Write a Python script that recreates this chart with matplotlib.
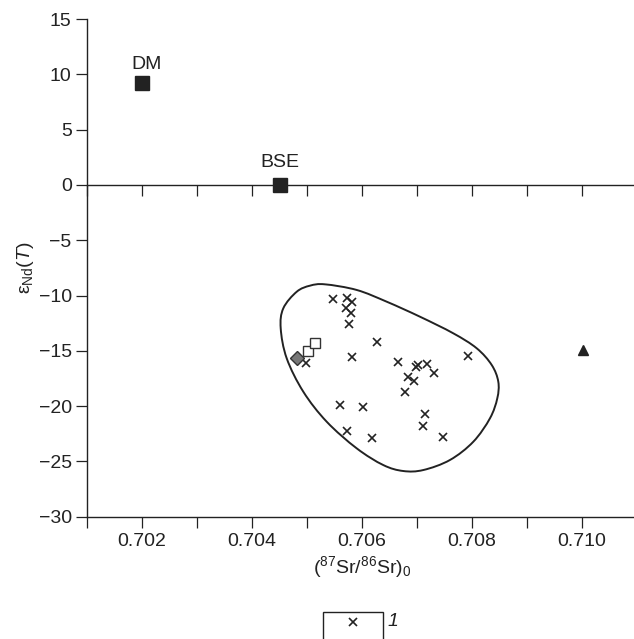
import matplotlib
matplotlib.use("Agg")
import matplotlib.pyplot as plt
from matplotlib.path import Path
from matplotlib.patches import PathPatch, Rectangle
from matplotlib.lines import Line2D
from matplotlib.ticker import MultipleLocator, FormatStrFormatter
import numpy as np

plt.rcParams['font.family'] = ['Liberation Sans', 'DejaVu Sans']
plt.rcParams['mathtext.fontset'] = 'custom'
plt.rcParams['mathtext.rm'] = 'Liberation Sans'
plt.rcParams['mathtext.it'] = 'Liberation Sans:italic'
plt.rcParams['mathtext.bf'] = 'Liberation Sans:bold'

INK = '#222222'

# ---- data ----
# reservoirs
ref_names = ['DM', 'BSE']
ref_sr = [0.7020, 0.70450]
ref_nd = [9.2, 0.0]

# group 1 (crosses)
g1_sr = [0.70548, 0.70573, 0.70581, 0.70570, 0.70580, 0.70577, 0.70628, 0.70582,
         0.70498, 0.70666, 0.70793, 0.70702, 0.70699, 0.70719, 0.70731, 0.70683,
         0.70695, 0.70678, 0.70560, 0.70601, 0.70714, 0.70711, 0.70573, 0.70618,
         0.70748]
g1_nd = [-10.34, -10.25, -10.61, -11.10, -11.61, -12.60, -14.18, -15.59,
         -16.08, -15.99, -15.47, -16.28, -16.49, -16.19, -17.03, -17.34,
         -17.73, -18.70, -19.87, -20.11, -20.71, -21.80, -22.28, -22.88,
         -22.77]

# open squares
sq_sr = [0.70502, 0.70515]
sq_nd = [-15.02, -14.32]

# grey diamond
dia_sr = [0.70481]
dia_nd = [-15.65]

# black triangle
tri_sr = [0.71002]
tri_nd = [-14.93]

# field outline (clockwise from top)
env_sr = [0.705327, 0.705904, 0.706449, 0.707055, 0.707660, 0.708085, 0.708358,
          0.708478, 0.708460, 0.708327, 0.708024, 0.707600, 0.707115, 0.706751,
          0.706387, 0.705904, 0.705358, 0.704933, 0.704631, 0.704522, 0.704569,
          0.704813, 0.705055]
env_nd = [-8.99, -9.50, -10.56, -11.92, -13.42, -14.77, -16.28,
          -17.79, -19.29, -21.10, -23.22, -24.87, -25.78, -25.87,
          -25.33, -23.82, -21.41, -18.70, -15.68, -12.97, -11.16,
          -9.66, -9.11]

x_lim = (0.701, 0.711)
y_lim = (-30, 15)

# ---- figure ----
fig = plt.figure(figsize=(6.34, 6.39), dpi=100)
ax = fig.add_axes([87/634, 122.3/639, 550/634, (516.7-19)/639])
ax.set_xlim(*x_lim)
ax.set_ylim(*y_lim)

for s in ['top', 'right']:
    ax.spines[s].set_visible(False)
for s in ['left', 'bottom']:
    ax.spines[s].set_linewidth(1.0)
    ax.spines[s].set_color(INK)

ax.xaxis.set_major_locator(MultipleLocator(0.002))
ax.xaxis.set_minor_locator(MultipleLocator(0.001))
ax.xaxis.set_major_formatter(FormatStrFormatter('%.3f'))
ax.yaxis.set_major_locator(MultipleLocator(5))
ax.tick_params(axis='both', which='both', direction='out', length=8, width=0.9,
               color=INK, labelsize=14, labelcolor=INK)
ax.tick_params(axis='x', which='both', pad=3.5)
ax.tick_params(axis='y', pad=3)

# line at eps = 0 with downward ticks
frac0 = (0 - y_lim[0]) / (y_lim[1] - y_lim[0])
sec = ax.secondary_xaxis(frac0)
sec.set_alignment('bottom')
sec.xaxis.set_major_locator(MultipleLocator(0.001))
sec.tick_params(axis='x', which='both', direction='out', length=8, width=0.9,
                color=INK, labelbottom=False, labeltop=False)
for s in sec.spines.values():
    s.set_linewidth(1.0)
    s.set_color(INK)

# envelope as smooth closed curve (Catmull-Rom -> cubic Bezier)
P = np.column_stack([env_sr, env_nd])
n = len(P)
verts = [P[0]]
codes = [Path.MOVETO]
for i in range(n):
    p0, p1, p2, p3 = P[i-1], P[i], P[(i+1) % n], P[(i+2) % n]
    c1 = p1 + (p2 - p0) / 6.0
    c2 = p2 - (p3 - p1) / 6.0
    verts += [c1, c2, p2]
    codes += [Path.CURVE4] * 3
ax.add_patch(PathPatch(Path(verts, codes), facecolor='none', edgecolor=INK, lw=1.4, zorder=2))

ax.plot(g1_sr, g1_nd, ls='none', marker='x', ms=5.5, mew=1.2, color=INK, zorder=3)
ax.plot(sq_sr, sq_nd, ls='none', marker='s', ms=7.5, mfc='white', mec='#333333', mew=1.0, zorder=4)
ax.plot(dia_sr, dia_nd, ls='none', marker='D', ms=7, mfc='#777777', mec='#333333', mew=1.0, zorder=4)
ax.plot(tri_sr, tri_nd, ls='none', marker='^', ms=7.5, color=INK, zorder=4)
ax.plot(ref_sr, ref_nd, ls='none', marker='s', ms=10, color=INK, zorder=4, clip_on=False)

offsets = {'DM': (3, 10), 'BSE': (0, 13)}
for name, xs, ys in zip(ref_names, ref_sr, ref_nd):
    ax.annotate(name, (xs, ys), xytext=offsets[name], textcoords='offset points',
                ha='center', va='baseline', fontsize=14, color=INK)

ax.set_xlabel(r'$(^{87}\mathrm{Sr}/^{86}\mathrm{Sr})_0$', fontsize=14, color=INK, labelpad=3)
ax.set_ylabel(r'$\mathrm{ε}_{\mathrm{Nd}}(T)$', fontsize=14, color=INK, labelpad=2)

# legend-like key below the axes
fig.patches.append(Rectangle((322.7/634, -0.02), 60.6/634, 0.02 + (639-611.7)/639,
                             transform=fig.transFigure, facecolor='none',
                             edgecolor=INK, lw=1.0, figure=fig))
fig.lines.append(Line2D([353/634], [1 - 622.3/639], transform=fig.transFigure,
                        ls='none', marker='x', ms=5.5, mew=1.2, color=INK, figure=fig))
fig.text(393/634, 1 - 622/639, '1', fontsize=14, style='italic', color=INK,
         ha='center', va='center')

fig.savefig('out.png', dpi=100)
